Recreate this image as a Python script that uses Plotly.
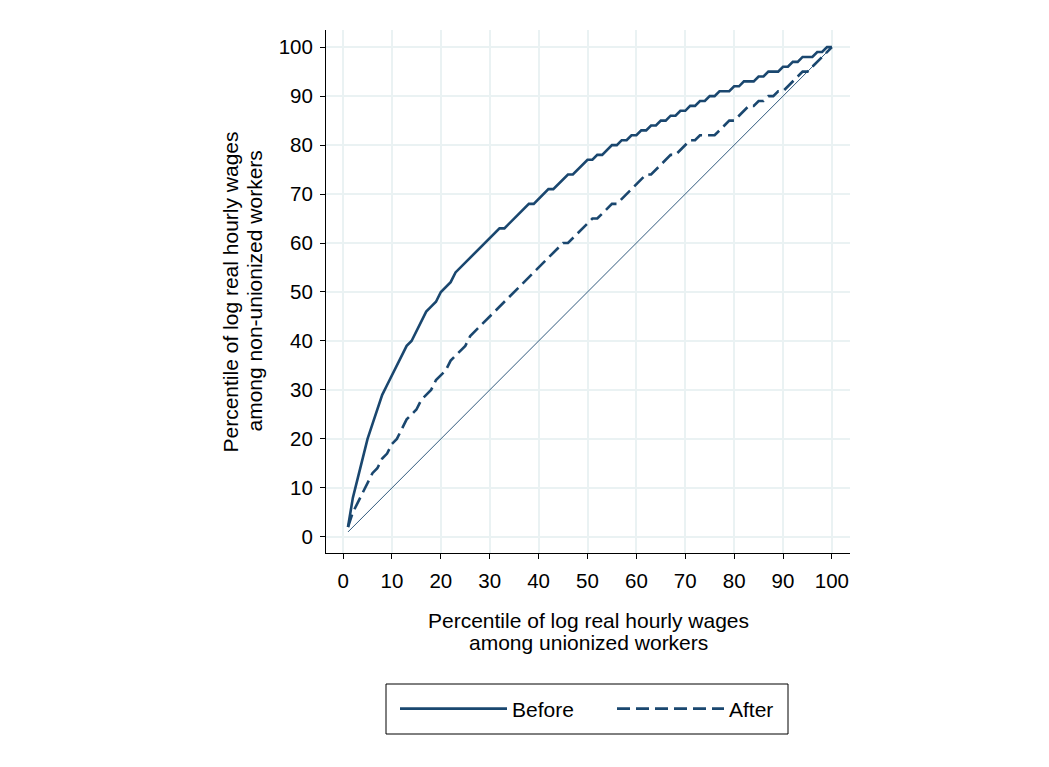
import plotly.graph_objects as go

# Percentile of log real hourly wages among unionized workers
pct_x = list(range(1, 101))

# Percentile among non-unionized workers, before
before_y = [2, 8, 12, 16, 20, 23, 26, 29, 31, 33,
            35, 37, 39, 40, 42, 44, 46, 47, 48, 50,
            51, 52, 54, 55, 56, 57, 58, 59, 60, 61,
            62, 63, 63, 64, 65, 66, 67, 68, 68, 69,
            70, 71, 71, 72, 73, 74, 74, 75, 76, 77,
            77, 78, 78, 79, 80, 80, 81, 81, 82, 82,
            83, 83, 84, 84, 85, 85, 86, 86, 87, 87,
            88, 88, 89, 89, 90, 90, 91, 91, 91, 92,
            92, 93, 93, 93, 94, 94, 95, 95, 95, 96,
            96, 97, 97, 98, 98, 98, 99, 99, 100, 100]

# Percentile among non-unionized workers, after
after_y = [2, 5, 7, 9, 11, 13, 14, 16, 17, 19,
           20, 22, 24, 25, 26, 28, 29, 30, 32, 33,
           34, 36, 37, 38, 39, 41, 42, 43, 44, 45,
           46, 47, 48, 49, 50, 51, 52, 53, 54, 55,
           56, 57, 58, 59, 60, 60, 61, 62, 63, 64,
           65, 65, 66, 67, 68, 68, 69, 70, 71, 72,
           73, 74, 74, 75, 76, 77, 78, 78, 79, 80,
           81, 81, 82, 82, 82, 82, 83, 84, 85, 85,
           86, 87, 88, 88, 89, 89, 90, 90, 91, 91,
           92, 93, 94, 95, 95, 96, 97, 98, 99, 100]

# 45-degree reference line
diag_x = [1, 100]
diag_y = [1, 100]

tick_vals = list(range(0, 101, 10))
tick_text = [str(v) for v in tick_vals]

x_title = ["Percentile of log real hourly wages", "among unionized workers"]
y_title = ["Percentile of log real hourly wages", "among non-unionized workers"]

NAVY = "#1a476f"
GRID = "#eaf2f3"
FONT = "Liberation Sans, Arial, sans-serif"
TXT = dict(family=FONT, size=21, color="black")

fig = go.Figure()
fig.add_trace(go.Scatter(x=pct_x, y=before_y, mode="lines", name="Before",
                         line=dict(color=NAVY, width=2.6)))
fig.add_trace(go.Scatter(x=pct_x, y=after_y, mode="lines", name="After",
                         line=dict(color=NAVY, width=2.6, dash="13px,6px")))
fig.add_trace(go.Scatter(x=diag_x, y=diag_y, mode="lines", showlegend=False,
                         line=dict(color=NAVY, width=0.9)))

axis_common = dict(
    tickvals=tick_vals, ticktext=tick_text,
    showgrid=True, gridcolor=GRID, gridwidth=2,
    zeroline=False, showline=True, linecolor="black", linewidth=1,
    ticks="outside", ticklen=5, tickwidth=1, tickcolor="black",
    tickfont=dict(family=FONT, size=20.5, color="black"),
)

fig.update_layout(
    width=1049, height=767,
    margin=dict(l=326, r=199, t=30, b=214),
    paper_bgcolor="white", plot_bgcolor="white",
    font=TXT,
    xaxis=dict(range=[-3.5, 103.7], ticklabelstandoff=4, **axis_common),
    yaxis=dict(range=[-3.3, 103.5], ticklabelstandoff=3, **axis_common),
    legend=dict(orientation="h", x=0.5 + 24 / 524, xanchor="center", xref="paper",
                y=-0.2983, yanchor="middle", yref="paper",
                borderwidth=0, bgcolor="rgba(0,0,0,0)",
                itemwidth=107, entrywidth=95, font=TXT,
                traceorder="normal"),
    showlegend=True,
)

# axis titles (two lines each)
for i, t in enumerate(x_title):
    fig.add_annotation(text=t, xref="paper", yref="paper", x=0.5, y=[-0.130, -0.172][i],
                       xanchor="center", yanchor="middle", showarrow=False, font=TXT)
for i, t in enumerate(y_title):
    fig.add_annotation(text=t, xref="paper", yref="paper", x=[-0.1813, -0.1374][i], y=0.5,
                       xanchor="center", yanchor="middle", textangle=-90,
                       showarrow=False, font=TXT)

# legend frame
fig.add_shape(type="rect", xref="paper", yref="paper",
              x0=(386 - 326) / 524, x1=(788 - 326) / 524,
              y0=(553 - 734) / 523, y1=(553 - 684) / 523,
              line=dict(color="black", width=1), fillcolor="rgba(0,0,0,0)")

fig.write_html("out.html")
